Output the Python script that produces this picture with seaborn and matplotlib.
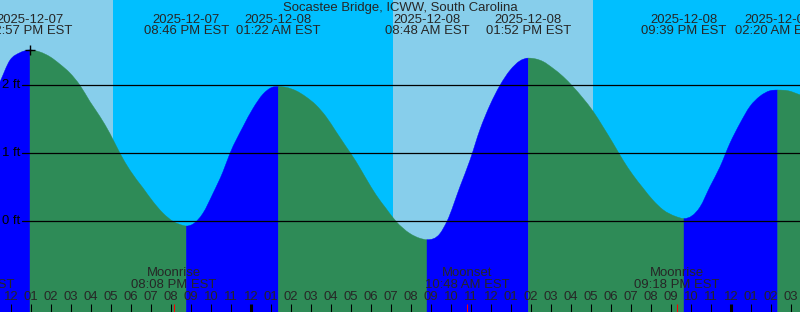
import matplotlib
matplotlib.use("Agg")
import matplotlib.pyplot as plt
from matplotlib.path import Path
from matplotlib.patches import PathPatch
import numpy as np
import pandas as pd
import seaborn as sns

TITLE = "Socastee Bridge, ICWW, South Carolina"

# time axis: hours since 2025-12-07 00:00 EST
curve_hours = [11.45, 11.95, 12.45, 12.95, 13.45, 13.95, 14.45, 14.95, 15.45, 15.95,
               16.45, 16.95, 17.45, 17.95, 18.6, 19.1, 19.6, 20.1, 20.6, 20.767,
               21.1, 21.6, 22.1, 22.6, 22.95, 23.6, 24.1, 24.6, 25.05, 25.367,
               25.75, 26.25, 26.75, 27.25, 27.75, 28.25, 28.75, 29.25, 29.75, 30.25,
               30.75, 31.25, 31.95, 32.45, 32.8, 33.45, 33.8, 34.45, 34.95, 35.45,
               35.95, 36.45, 36.95, 37.45, 37.867, 38.6, 39.1, 39.6, 40.1, 40.6,
               41.1, 41.6, 42.1, 42.6, 43.1, 43.6, 44.1, 44.6, 45.25, 45.65,
               46.45, 46.95, 47.45, 47.95, 48.45, 48.95, 49.45, 49.95, 50.333, 50.85,
               51.45]
curve_ft = [2.05, 2.37, 2.48, 2.52, 2.49, 2.42, 2.31, 2.18, 2.00, 1.76,
            1.54, 1.29, 1.00, 0.75, 0.49, 0.29, 0.12, 0.00, -0.06, -0.07,
            -0.04, 0.12, 0.41, 0.73, 1.00, 1.39, 1.66, 1.87, 1.97, 1.98,
            1.97, 1.92, 1.83, 1.71, 1.54, 1.32, 1.10, 0.88, 0.63, 0.39,
            0.19, 0.00, -0.18, -0.25, -0.27, -0.18, 0.00, 0.51, 0.90, 1.35,
            1.71, 2.00, 2.22, 2.36, 2.40, 2.35, 2.25, 2.13, 1.98, 1.81,
            1.62, 1.39, 1.15, 0.90, 0.68, 0.49, 0.31, 0.17, 0.07, 0.04,
            0.21, 0.51, 0.80, 1.15, 1.44, 1.69, 1.84, 1.92, 1.93, 1.92,
            1.86]

tide_hours = [12.95, 20.767, 25.367, 32.8, 37.867, 45.65, 50.333]
tide_ft = [2.52, -0.07, 1.98, -0.27, 2.40, 0.04, 1.93]
tide_kind = ["high", "low", "high", "low", "high", "low", "high"]
tide_dates = ["2025-12-07", "2025-12-07", "2025-12-08", "2025-12-08",
              "2025-12-08", "2025-12-08", "2025-12-09"]
tide_times = ["12:57 PM EST", "08:46 PM EST", "01:22 AM EST", "08:48 AM EST",
              "01:52 PM EST", "09:39 PM EST", "02:20 AM EST"]

sun_hours = [17.1, 31.1, 41.1]
sun_kind = ["sunset", "sunrise", "sunset"]

moon_hours = [10.05, 20.133, 34.8, 45.3]
moon_names = ["Moonset", "Moonrise", "Moonset", "Moonrise"]
moon_times = ["10:03 AM EST", "08:08 PM EST", "10:48 AM EST", "09:18 PM EST"]

grid_ft = [0, 1, 2]
grid_labels = ["0 ft", "1 ft", "2 ft"]

tick_hours = list(range(12, 52))
tick_labels = ["%02d" % ((h % 12) or 12) for h in tick_hours]

# ---- layout constants (pixels) ----
W, H = 800, 312
X0, X1 = 11.45, 51.45          # visible time window
PX_PER_H = W / (X1 - X0)
ZERO_PX, PX_PER_FT = 221.3, 68.0
ylim = ((ZERO_PX - H) / PX_PER_FT, ZERO_PX / PX_PER_FT)

DAY, NIGHT = "#87CEEB", "#00BFFF"
RISE, FALL = "#0000FF", "#2E8B57"

sns.set_style("white")
plt.rcParams["font.family"] = ["Liberation Sans", "DejaVu Sans"]
FS = 9.45

fig = plt.figure(figsize=(W / 100, H / 100), dpi=100)
ax = fig.add_axes([0, 0, 1, 1])

def yax(px):
    return 1 - px / H

# day / night background
edges = [X0] + sun_hours + [X1]
is_day = sun_kind[0] == "sunset"
for a, b in zip(edges[:-1], edges[1:]):
    ax.axvspan(a, b, color=DAY if is_day else NIGHT, lw=0, zorder=0)
    is_day = not is_day

# tide curve: smooth fill through the read points, split rising / falling
ch = np.array(curve_hours, dtype=float)
cf = np.array(curve_ft, dtype=float)
slope = np.gradient(cf, ch)
for th in tide_hours:
    slope[np.argmin(np.abs(ch - th))] = 0.0

bounds = [X0] + tide_hours + [X1]
bottom = ylim[0]
for i, (a, b) in enumerate(zip(bounds[:-1], bounds[1:])):
    if i < len(tide_kind):
        phase = "rising" if tide_kind[i] == "high" else "falling"
    else:
        phase = "rising" if tide_kind[-1] == "low" else "falling"
    m = (ch >= a - 1e-9) & (ch <= b + 1e-9)
    xs, ys, ds = ch[m], cf[m], slope[m]
    verts = [(xs[0], bottom), (xs[0], ys[0])]
    codes = [Path.MOVETO, Path.LINETO]
    for j in range(len(xs) - 1):
        dx = xs[j + 1] - xs[j]
        verts += [(xs[j] + dx / 3, ys[j] + ds[j] * dx / 3),
                  (xs[j + 1] - dx / 3, ys[j + 1] - ds[j + 1] * dx / 3),
                  (xs[j + 1], ys[j + 1])]
        codes += [Path.CURVE4] * 3
    verts += [(xs[-1], bottom), (xs[0], bottom)]
    codes += [Path.LINETO, Path.CLOSEPOLY]
    col = RISE if phase == "rising" else FALL
    ax.add_patch(PathPatch(Path(verts, codes), facecolor=col, edgecolor=col,
                           lw=0.3, zorder=1))

# height grid lines (seaborn) + labels
grid_df = pd.DataFrame({
    "h": [X0 + 22 / PX_PER_H, X1] * len(grid_ft),
    "ft": [g for g in grid_ft for _ in range(2)],
    "line": [k for k in range(len(grid_ft)) for _ in range(2)],
})
sns.lineplot(data=grid_df, x="h", y="ft", units="line", estimator=None,
             color="black", lw=0.9, ax=ax, zorder=3, legend=False)
for g, lab in zip(grid_ft, grid_labels):
    ax.text(X0 + 2.5 / PX_PER_H, g, lab, ha="left", va="center", fontsize=FS,
            color="black", zorder=4)

ax.set_xlim(X0, X1)
ax.set_ylim(*ylim)
ax.axis("off")

trans = ax.get_xaxis_transform()

# tide event labels
for h, d, t in zip(tide_hours, tide_dates, tide_times):
    ax.text(h, yax(20), d, ha="center", va="center", fontsize=FS, transform=trans, zorder=4)
    ax.text(h, yax(31.5), t, ha="center", va="center", fontsize=FS, transform=trans, zorder=4)

# marker at first high
ax.plot([tide_hours[0]], [tide_ft[0]], marker="+", color="black", ms=7, mew=1.0, zorder=5)

# moon labels
for h, n, t in zip(moon_hours, moon_names, moon_times):
    ax.text(h, yax(273.5), n, ha="center", va="center", fontsize=FS, transform=trans, zorder=4)
    ax.text(h, yax(285.5), t, ha="center", va="center", fontsize=FS, transform=trans, zorder=4)

# hour ticks and labels
for h, lab in zip(tick_hours, tick_labels):
    midnight = (h % 24 == 0)
    ax.plot([h, h], [yax(304), 0], transform=trans, color="black",
            lw=2.2 if midnight else 0.75, solid_capstyle="butt", zorder=4)
    ax.text(h, yax(297.5), lab, ha="center", va="center", fontsize=FS,
            transform=trans, zorder=4)
for h in moon_hours:
    ax.plot([h, h], [yax(304), 0], transform=trans, color="red", lw=0.75,
            solid_capstyle="butt", zorder=5)

fig.text(0.5, yax(7.5), TITLE, ha="center", va="center", fontsize=FS)

fig.savefig("out.png", dpi=100)
